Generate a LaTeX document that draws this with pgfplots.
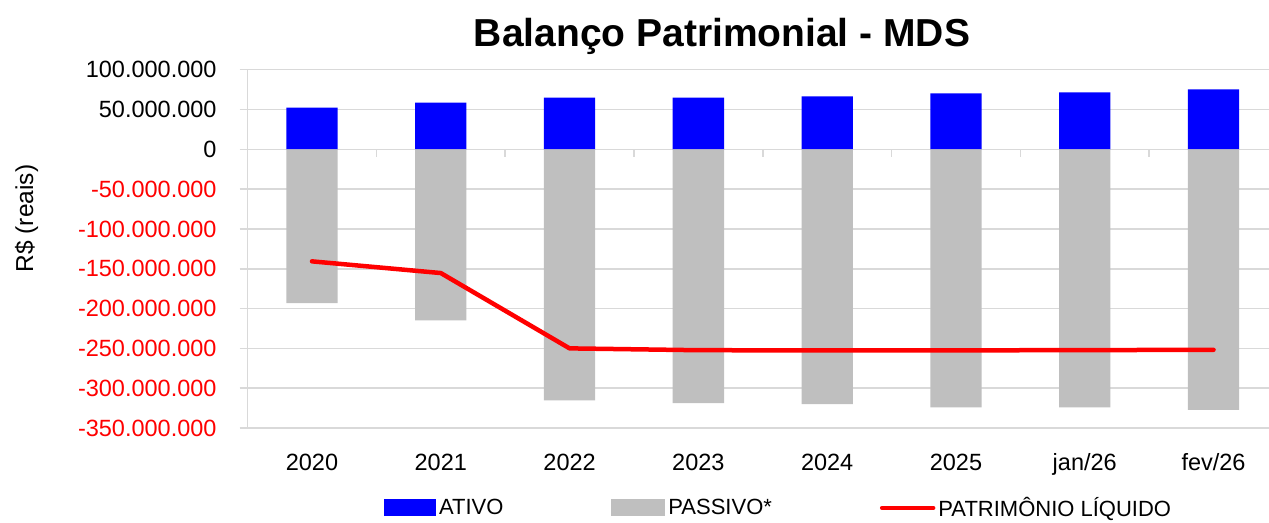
\documentclass[border=0pt]{standalone}
\usepackage{fontspec}
\setmainfont{Liberation Sans}
\usepackage{pgfplots}
\usepackage{pgfplotstable}
\pgfplotsset{compat=1.18}
\definecolor{gridgray}{HTML}{D9D9D9}
\definecolor{barblue}{HTML}{0000FF}
\definecolor{bargray}{HTML}{BFBFBF}
\definecolor{linered}{HTML}{FF0000}

\pgfplotstableread{
x ativo passivo pl
0 52300000 -193100000 -140700000
1 58500000 -214800000 -155400000
2 64800000 -315400000 -250000000
3 64800000 -318700000 -252300000
4 66600000 -320000000 -252500000
5 70300000 -324200000 -252500000
6 71600000 -324200000 -252200000
7 75200000 -327100000 -251800000
}\datatable

\begin{document}
\begin{tikzpicture}
\useasboundingbox (0,0) rectangle (1269bp,523bp);
\node[anchor=base, font=\fontsize{39bp}{45bp}\selectfont\bfseries] at (722bp,476bp) {Balanço Patrimonial - MDS};
\node[rotate=90, font=\fontsize{24.5bp}{28bp}\selectfont, inner sep=0pt] at (26.5bp,304.5bp) {R\$ (reais)};
\begin{axis}[
  at={(247.6bp,95bp)}, anchor=south west,
  scale only axis, width=1030.4bp, height=358.3bp,
  xmin=-0.5, xmax=7.5, ymin=-350000000, ymax=100000000,
  axis y line*=left, axis x line*=bottom,
  x axis line style={draw=none},
  y axis line style={draw=gridgray, line width=1.5bp, -},
  xtick={0,...,7},
  xticklabels={2020,2021,2022,2023,2024,2025,jan/26,fev/26},
  ytick={-350000000,-300000000,-250000000,-200000000,-150000000,-100000000,-50000000,0,50000000,100000000},
  yticklabels={\textcolor{linered}{-350.000.000},\textcolor{linered}{-300.000.000},\textcolor{linered}{-250.000.000},\textcolor{linered}{-200.000.000},\textcolor{linered}{-150.000.000},\textcolor{linered}{-100.000.000},\textcolor{linered}{-50.000.000},0,50.000.000,100.000.000},
  scaled y ticks=false,
  ymajorgrids, grid style={draw=gridgray, line width=1.5bp},
  xtick style={draw=none, /pgfplots/major tick length=0pt},
  ytick style={draw=gridgray, line width=1.5bp, /pgfplots/major tick length=8bp},
  tick align=outside,
  ytick pos=left,
  tick label style={font=\fontsize{23.5bp}{27bp}\selectfont},
  xticklabel style={anchor=base, inner sep=0pt, yshift=-38.5bp},
  yticklabel style={anchor=east, inner sep=0pt, xshift=-26.6bp},
  legend columns=3,
  legend style={at={(0.1324,-0.223)}, anchor=west, draw=none, fill=none,
    inner sep=0pt, outer sep=0pt,
    font=\fontsize{22bp}{26bp}\selectfont,
    nodes={inner sep=0pt},
    /tikz/every odd column/.append style={column sep=3bp},
    /tikz/every even column/.append style={column sep=108bp}},
  legend cell align=left,
]
\addplot[ybar, bar width=51.3bp, bar shift=0pt, fill=barblue, draw=none,
  legend image code/.code={\fill[barblue] (0bp,-8.5bp) rectangle (52bp,8.5bp);}]
  table[x=x, y=ativo] {\datatable};
\addlegendentry{ATIVO}
\addplot[ybar, bar width=51.3bp, bar shift=0pt, fill=bargray, draw=none,
  legend image code/.code={\fill[bargray] (0bp,-8.5bp) rectangle (54bp,8.5bp);}]
  table[x=x, y=passivo] {\datatable};
\addlegendentry{PASSIVO*}
\addplot[linered, line width=4.5bp, line cap=round, line join=round, mark=none,
  legend image code/.code={\draw[linered, line width=4.5bp, line cap=round] (2bp,0) -- (53bp,0);}]
  table[x=x, y=pl] {\datatable};
\addlegendentry{PATRIMÔNIO LÍQUIDO}
\pgfplotsinvokeforeach{0.5,1.5,2.5,3.5,4.5,5.5,6.5}{
  \draw[gridgray, line width=1.5bp] (axis cs:#1,0) -- ([yshift=-8bp]axis cs:#1,0);
}
\end{axis}
\end{tikzpicture}
\end{document}
